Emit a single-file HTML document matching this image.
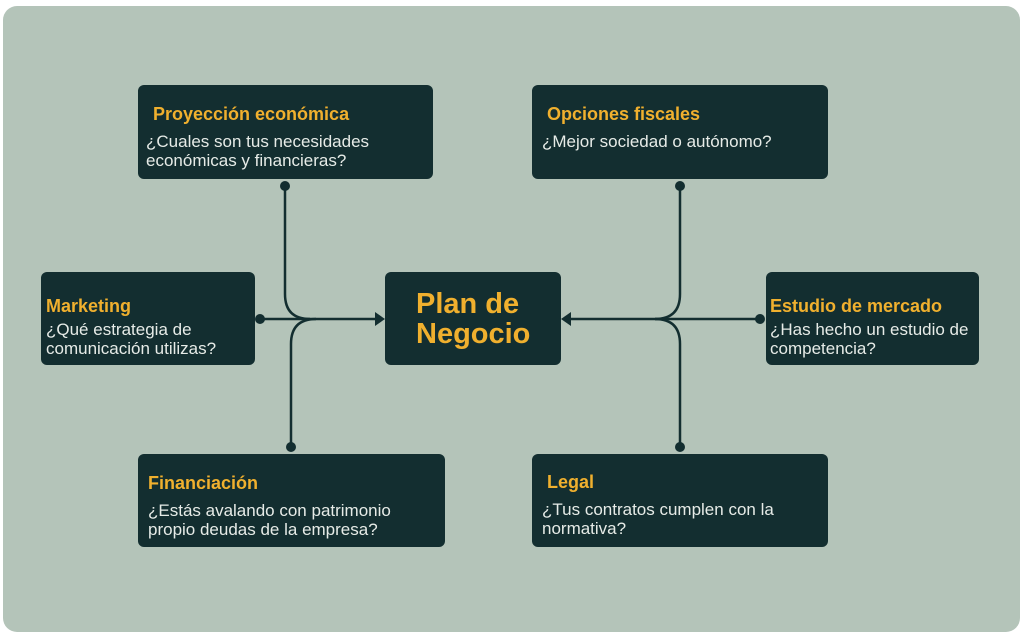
<!DOCTYPE html>
<html><head><style>
body{margin:0;width:1024px;height:636px;background:#fff;position:relative;overflow:hidden;font-family:"Liberation Sans",sans-serif}
.panel{position:absolute;left:3px;top:6px;width:1017px;height:626px;background:#b4c4b9;border-radius:14px}
.b{position:absolute;background:#132e30;border-radius:6px;color:#e6ebe7;font-size:17px;line-height:19px;box-sizing:border-box;white-space:nowrap}
.b h{display:block;color:#f0b02e;font-weight:bold;font-size:18px;margin-bottom:8px}
svg{position:absolute;left:0;top:0}
</style></head><body>
<div class="panel"></div>
<svg width="1024" height="636">
<g stroke="#132e30" stroke-width="2.5" fill="none">
<path d="M285 186 V294 Q285 319 310 319"/>
<path d="M291 447 V344 Q291 319 316 319"/>
<path d="M260 319 H378"/>
<path d="M680 186 V294 Q680 319 655 319"/>
<path d="M680 447 V344 Q680 319 655 319"/>
<path d="M760 319 H568"/>
</g>
<g fill="#132e30">
<circle cx="285" cy="186" r="5"/><circle cx="291" cy="447" r="5"/><circle cx="260" cy="319" r="5"/>
<circle cx="680" cy="186" r="5"/><circle cx="680" cy="447" r="5"/><circle cx="760" cy="319" r="5"/>
<path d="M385 319 L375 312 L375 326Z"/><path d="M561 319 L571 312 L571 326Z"/>
</g>
</svg>
<div class="b" style="left:138px;top:85px;width:295px;height:94px;padding:20px 0 0 8px"><h style="padding-left:7px">Proyección económica</h>¿Cuales son tus necesidades<br>económicas y financieras?</div>
<div class="b" style="left:532px;top:85px;width:296px;height:94px;padding:20px 0 0 10px"><h style="padding-left:5px">Opciones fiscales</h>¿Mejor sociedad o autónomo?</div>
<div class="b" style="left:41px;top:272px;width:214px;height:93px;padding:25px 0 0 5px"><h style="margin-bottom:4px">Marketing</h>¿Qué estrategia de<br>comunicación utilizas?</div>
<div class="b" style="left:385px;top:272px;width:176px;height:93px;padding:17px 0 0 31px;color:#f0b02e;font-weight:bold;font-size:29px;line-height:30px">Plan de<br>Negocio</div>
<div class="b" style="left:766px;top:272px;width:213px;height:93px;padding:25px 0 0 4px"><h style="margin-bottom:4px">Estudio de mercado</h>¿Has hecho un estudio de<br>competencia?</div>
<div class="b" style="left:138px;top:454px;width:307px;height:93px;padding:20px 0 0 10px"><h>Financiación</h>¿Estás avalando con patrimonio<br>propio deudas de la empresa?</div>
<div class="b" style="left:532px;top:454px;width:296px;height:93px;padding:19px 0 0 10px"><h style="padding-left:5px">Legal</h>¿Tus contratos cumplen con la<br>normativa?</div>
</body></html>
